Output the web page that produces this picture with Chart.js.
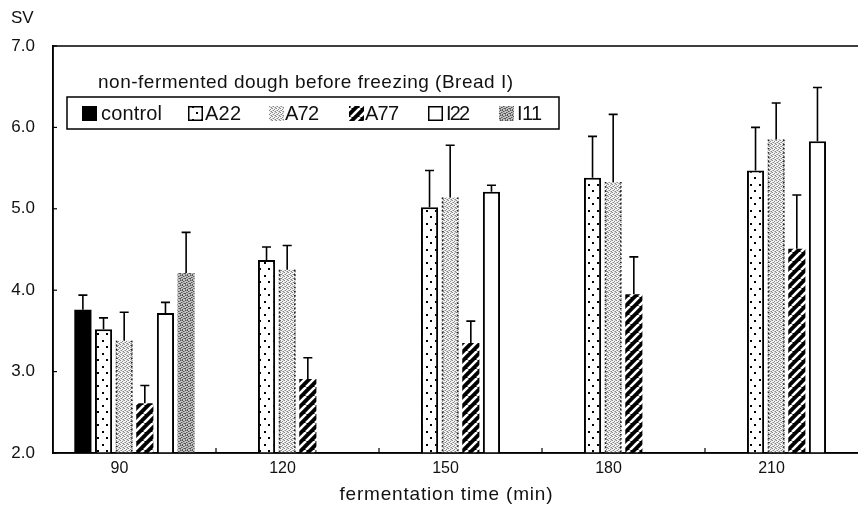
<!DOCTYPE html>
<html>
<head>
<meta charset="utf-8">
<script src="https://cdn.jsdelivr.net/npm/chart.js@4.4.0/dist/chart.umd.min.js"></script>
<style>
  html, body { margin: 0; padding: 0; background: #fff; overflow: hidden; }
  #wrap { position: absolute; left: 0; top: 0; width: 880px; height: 517px; }
</style>
</head>
<body>
<div id="wrap"><canvas id="sv-chart" width="880" height="517"></canvas></div>
<script>
// --- data ---
const fermentTimes = ['90', '120', '150', '180', '210'];
const yTicks = [2, 3, 4, 5, 6, 7];

// mean SV, null = no bar at that time
const controlSV = [3.76, null, null, null, null];
const a22SV = [3.52, 4.37, 5.02, 5.38, 5.47];
const a72SV = [3.38, 4.25, 5.14, 5.33, 5.85];
const a77SV = [2.61, 2.91, 3.35, 3.95, 4.51];
const i22SV = [3.72, null, 5.21, null, 5.83];
const i11SV = [4.21, null, null, null, null];

// upper error bar length
const controlErr = [0.18, null, null, null, null];
const a22Err = [0.14, 0.16, 0.45, 0.51, 0.53];
const a72Err = [0.35, 0.30, 0.64, 0.83, 0.45];
const a77Err = [0.22, 0.26, 0.27, 0.46, 0.66];
const i22Err = [0.13, null, 0.08, null, 0.66];
const i11Err = [0.50, null, null, null, null];

const legendTitle = 'non-fermented dough before freezing (Bread I)';
const xTitle = 'fermentation time (min)';
const yTitle = 'SV';

const TEXT = '#111';
const SANS = '"Liberation Sans", Arial, sans-serif';
const canvas = document.getElementById('sv-chart');
const ctx = canvas.getContext('2d');

// --- fill patterns (scanned b/w print look) ---
function makePattern(kind) {
    const c = document.createElement('canvas');
    const g = c.getContext('2d');
    if (kind === 'dots') {
        c.width = 9; c.height = 13;
        g.fillStyle = '#fff'; g.fillRect(0, 0, 9, 13);
        g.fillStyle = '#000';
        g.fillRect(3, 2, 2, 2);
        g.fillRect(7, 8, 2, 2);
    } else if (kind === 'stipple') {
        c.width = 4; c.height = 4;
        g.fillStyle = '#f4f4f4'; g.fillRect(0, 0, 4, 4);
        g.fillStyle = '#888';
        g.fillRect(0, 0, 1, 1); g.fillRect(2, 1, 1, 1);
        g.fillRect(1, 2, 1, 1); g.fillRect(3, 3, 1, 1);
        g.fillStyle = '#bdbdbd';
        g.fillRect(2, 3, 1, 1); g.fillRect(0, 2, 1, 1); g.fillRect(3, 0, 1, 1);
    } else if (kind === 'stripes') {
        c.width = 9; c.height = 9;
        g.fillStyle = '#000'; g.fillRect(0, 0, 9, 9);
        g.strokeStyle = '#fff'; g.lineWidth = 2.6;
        [-9, 0, 9].forEach(o => {
            g.beginPath(); g.moveTo(o, 9); g.lineTo(o + 9, 0); g.stroke();
        });
    } else if (kind === 'gray') {
        // irregular halftone, no visible direction
        c.width = 5; c.height = 5;
        g.fillStyle = '#c4c4c4'; g.fillRect(0, 0, 5, 5);
        g.fillStyle = '#555';
        [[0, 0], [3, 1], [1, 2], [4, 3], [2, 4], [2, 0], [0, 3]].forEach(p => g.fillRect(p[0], p[1], 1, 1));
        g.fillStyle = '#8a8a8a';
        [[1, 0], [4, 1], [3, 3], [0, 4], [2, 2]].forEach(p => g.fillRect(p[0], p[1], 1, 1));
    }
    return ctx.createPattern(c, 'repeat');
}

const dotsPat = makePattern('dots');
const stipplePat = makePattern('stipple');
const stripePat = makePattern('stripes');
const grayPat = makePattern('gray');

// text squeezed/stretched to the width it has in the print
function fillFitted(g, text, x, y, width, align) {
    g.letterSpacing = '0px';
    const w = g.measureText(text).width;
    const sp = (width - w) / Math.max(1, text.length - 1);
    g.letterSpacing = sp + 'px';
    g.textAlign = 'left';
    const left = align === 'center' ? x - width / 2 : x;
    g.fillText(text, left, y);
    g.letterSpacing = '0px';
}

// --- plugins ---
const framePlugin = {
    id: 'frame',
    afterDraw(chart) {
        const a = chart.chartArea;
        const g = chart.ctx;
        const xs = chart.scales.x;
        const ys = chart.scales.y;
        g.save();
        g.strokeStyle = '#000';
        g.lineWidth = 1.5;
        g.strokeRect(a.left, a.top, a.right - a.left, a.bottom - a.top);
        // inward ticks on y
        g.lineWidth = 1.2;
        yTicks.forEach(v => {
            const y = ys.getPixelForValue(v);
            g.beginPath(); g.moveTo(a.left, y); g.lineTo(a.left + 4, y); g.stroke();
        });
        // inward ticks between categories
        for (let i = 0; i < fermentTimes.length - 1; i++) {
            const x = (xs.getPixelForTick(i) + xs.getPixelForTick(i + 1)) / 2;
            g.beginPath(); g.moveTo(x, a.bottom); g.lineTo(x, a.bottom - 5); g.stroke();
        }
        // axis titles
        g.fillStyle = TEXT;
        g.textBaseline = 'middle';
        g.font = '17px ' + SANS;
        g.textAlign = 'left';
        g.fillText(yTitle, 11, 18);
        g.font = '19px ' + SANS;
        fillFitted(g, xTitle, 446, 495, 213, 'center');
        g.restore();
    }
};

const errorBarPlugin = {
    id: 'errorBars',
    afterDatasetsDraw(chart) {
        const g = chart.ctx;
        const ys = chart.scales.y;
        const bottom = chart.chartArea.bottom;
        g.save();
        chart.data.datasets.forEach((ds, di) => {
            const meta = chart.getDatasetMeta(di);
            meta.data.forEach((bar, i) => {
                if (ds.data[i] == null) return;
                // dotted edges of the A72 bars
                if (ds.dottedEdges) {
                    g.strokeStyle = '#222';
                    g.lineWidth = 1.6;
                    g.setLineDash([1.6, 2.6]);
                    const half = bar.width / 2;
                    [bar.x - half + 1, bar.x + half - 1].forEach(x => {
                        g.beginPath(); g.moveTo(x, bar.y); g.lineTo(x, bottom); g.stroke();
                    });
                    g.setLineDash([]);
                }
                const err = ds.errors ? ds.errors[i] : null;
                if (err == null) return;
                const yTop = ys.getPixelForValue(ds.data[i] + err);
                g.strokeStyle = '#000';
                g.lineWidth = 1.6;
                g.beginPath();
                g.moveTo(bar.x, bar.y);
                g.lineTo(bar.x, yTop);
                g.moveTo(bar.x - 4.5, yTop);
                g.lineTo(bar.x + 4.5, yTop);
                g.stroke();
            });
        });
        g.restore();
    }
};

const legendPlugin = {
    id: 'boxLegend',
    afterDraw(chart) {
        const g = chart.ctx;
        g.save();
        g.fillStyle = TEXT;
        g.textBaseline = 'middle';
        g.font = '19px ' + SANS;
        fillFitted(g, legendTitle, 98, 83, 415, 'left');

        g.strokeStyle = '#000';
        g.lineWidth = 1.5;
        g.strokeRect(67, 97, 492, 32);

        // swatch left, label left, label width
        const slots = [[82, 101, 61], [188, 205, 36], [269, 285, 34], [349, 365, 34], [428, 446, 24], [499, 517, 25]];
        g.font = '20px ' + SANS;
        chart.data.datasets.forEach((ds, i) => {
            const [sx, tx, tw] = slots[i];
            g.fillStyle = ds.backgroundColor;
            g.fillRect(sx, 106, 15, 15);
            if (ds.borderWidth) {
                g.strokeStyle = '#000';
                g.lineWidth = 1.5;
                g.strokeRect(sx + 0.75, 106.75, 13.5, 13.5);
            }
            g.fillStyle = TEXT;
            fillFitted(g, ds.label, tx, 114, tw, 'left');
        });
        g.restore();
    }
};

// --- chart ---
new Chart(ctx, {
    type: 'bar',
    data: {
        labels: fermentTimes,
        datasets: [
            { label: 'control', data: controlSV, errors: controlErr, backgroundColor: '#000', borderWidth: 0 },
            { label: 'A22', data: a22SV, errors: a22Err, backgroundColor: dotsPat, borderColor: '#000', borderWidth: 2 },
            { label: 'A72', data: a72SV, errors: a72Err, backgroundColor: stipplePat, borderWidth: 0, dottedEdges: true },
            { label: 'A77', data: a77SV, errors: a77Err, backgroundColor: stripePat, borderWidth: 0 },
            { label: 'I22', data: i22SV, errors: i22Err, backgroundColor: '#fff', borderColor: '#000', borderWidth: 2 },
            { label: 'I11', data: i11SV, errors: i11Err, backgroundColor: grayPat, borderWidth: 0 }
        ]
    },
    options: {
        responsive: false,
        animation: false,
        devicePixelRatio: 1,
        layout: { padding: { top: 46, right: 12, left: 0, bottom: 0 } },
        datasets: { bar: { categoryPercentage: 0.76, barPercentage: 0.83 } },
        plugins: {
            legend: { display: false },
            tooltip: { enabled: false }
        },
        scales: {
            x: {
                grid: { display: false, drawTicks: false },
                border: { color: '#000', width: 1.5 },
                ticks: {
                    color: TEXT,
                    padding: 6,
                    labelOffset: -15,
                    font: { family: SANS, size: 16 }
                },
                afterFit: s => { s.height = 64; }
            },
            y: {
                min: 2,
                max: 7,
                afterBuildTicks: s => { s.ticks = yTicks.map(v => ({ value: v })); },
                grid: { display: false, drawTicks: false },
                border: { color: '#000', width: 1.5 },
                ticks: {
                    color: TEXT,
                    padding: 18,
                    callback: v => Number(v).toFixed(1),
                    font: { family: SANS, size: 17 }
                },
                afterFit: s => { s.width = 53; }
            }
        }
    },
    plugins: [errorBarPlugin, framePlugin, legendPlugin]
});
</script>
</body>
</html>
